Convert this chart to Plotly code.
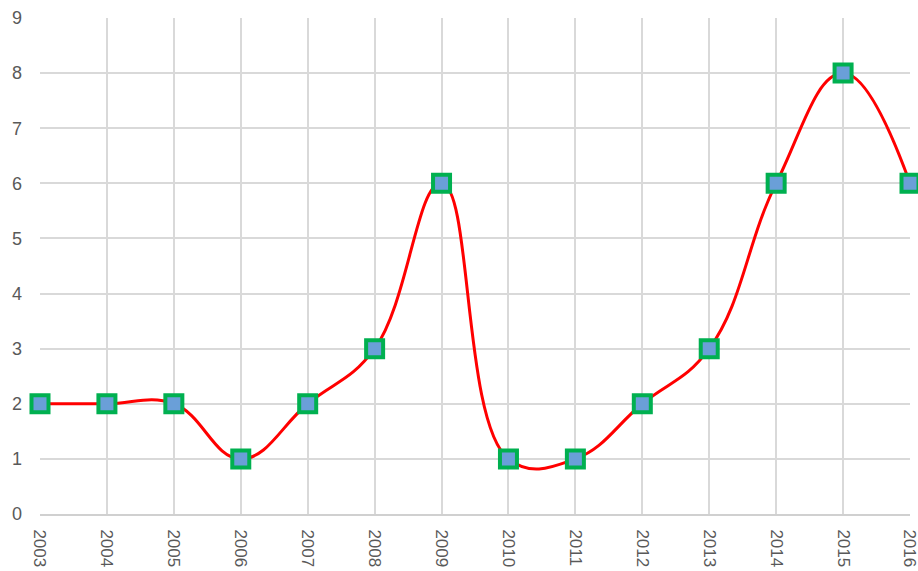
import plotly.graph_objects as go

years = list(range(2003, 2017))
values = [2, 2, 2, 1, 2, 3, 6, 1, 1, 2, 3, 6, 8, 6]
y_ticks = list(range(0, 10))

fig = go.Figure()

fig.add_trace(go.Scatter(
    x=years, y=values, mode='lines+markers',
    line=dict(color='#FF0000', width=3, shape='spline', smoothing=1.2),
    marker=dict(symbol='square', size=17, color='#6A9FD8',
                line=dict(color='#00B050', width=4)),
    cliponaxis=False, showlegend=False
))

fig.update_layout(
    width=918, height=571,
    margin=dict(l=40, r=8, t=18, b=57),
    plot_bgcolor='white', paper_bgcolor='white',
    font=dict(family='Liberation Sans, Arial, sans-serif', size=17, color='#595959'),
    xaxis=dict(
        range=[2003, 2016], tickmode='array', tickvals=years,
        ticktext=[str(y) for y in years], tickangle=90,
        showgrid=True, gridcolor='#D9D9D9', gridwidth=2,
        showline=True, linecolor='#D0D0D0', linewidth=2,
        zeroline=False, ticks='', ticklabelstandoff=10,
        automargin=False, ticklabeloverflow='allow',
    ),
    yaxis=dict(
        range=[0, 9], tickvals=y_ticks, tickfont=dict(size=18),
        showgrid=True, gridcolor='#D9D9D9', gridwidth=2,
        zeroline=False, showline=False, ticks='',
        ticklabelstandoff=17, automargin=False,
    ),
)

# the page body has a default 8px margin; drop it so the figure fills the window
fig.write_html("out.html", config={'displayModeBar': False},
               post_script="document.body.style.margin='0';")
